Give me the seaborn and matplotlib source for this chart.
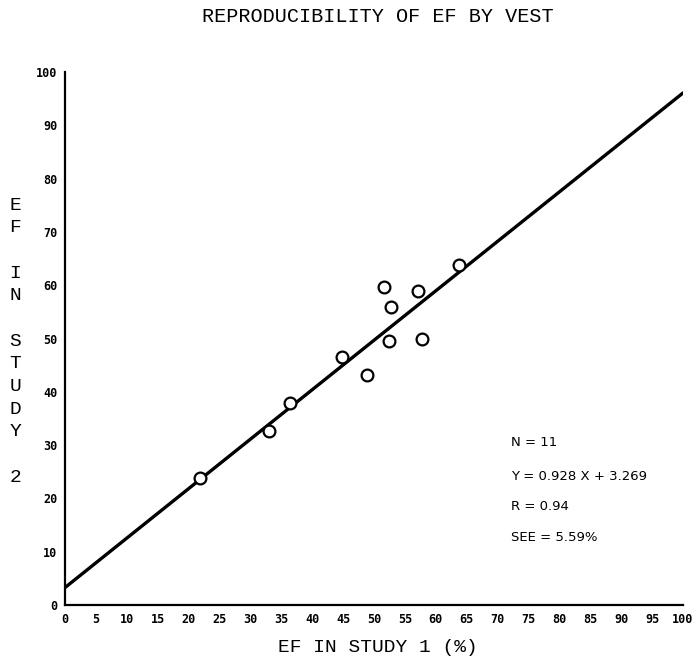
import numpy as np
import pandas as pd
import matplotlib
matplotlib.use("Agg")
import matplotlib.pyplot as plt
import seaborn as sns

# ---- data ----
study1 = [21.9, 33.0, 36.4, 44.8, 48.9, 51.6, 52.4, 52.8, 57.1, 57.8, 63.8]
study2 = [23.8, 32.6, 37.9, 46.6, 43.2, 59.7, 49.5, 55.9, 59.0, 49.9, 63.8]
slope = 0.928
intercept = 3.269
line_x = [0, 100]
x_ticks = list(range(0, 101, 5))
y_ticks = list(range(0, 101, 10))
stats_lines = ["N = 11", "Y = 0.928 X + 3.269", "R = 0.94", "SEE = 5.59%"]
stats_y = [30.4, 24.2, 18.4, 12.6]
title = "REPRODUCIBILITY OF EF BY VEST"
xlabel = "EF IN STUDY 1 (%)"
ylabel_chars = ["E", "F", "", "I", "N", "", "S", "T", "U", "D", "Y", "", "2"]

sns.set_theme(style="white")
plt.rcParams["font.family"] = ["DejaVu Sans"]

W, H, DPI = 696, 668, 100
fig = plt.figure(figsize=(W / DPI, H / DPI), dpi=DPI)
fig.patch.set_facecolor("white")
ax = fig.add_axes([65 / W, 1 - 605 / H, (683 - 65) / W, (605 - 72) / H])
ax.set_facecolor("white")

pts = pd.DataFrame({"study1": study1, "study2": study2})
ln = pd.DataFrame({"x": line_x})
ln["y"] = slope * ln["x"] + intercept

sns.lineplot(data=ln, x="x", y="y", ax=ax, color="black", linewidth=2.4, zorder=2)
sns.scatterplot(data=pts, x="study1", y="study2", ax=ax, s=72, facecolor="white",
                edgecolor="black", linewidth=1.6, zorder=3, clip_on=False)

ax.set_xlim(0, 100)
ax.set_ylim(0, 100)
ax.set_xticks(x_ticks)
ax.set_yticks(y_ticks)
ax.set_xlabel("")
ax.set_ylabel("")
for s in ["top", "right"]:
    ax.spines[s].set_visible(False)
for s in ["left", "bottom"]:
    ax.spines[s].set_linewidth(1.6)
    ax.spines[s].set_color("black")
ax.tick_params(axis="both", direction="inout", length=8, width=1.3, colors="black",
               pad=1.5, labelsize=8.5)
for lab in ax.get_xticklabels() + ax.get_yticklabels():
    lab.set_fontfamily("DejaVu Sans Mono")
    lab.set_fontweight("bold")

for txt, yv in zip(stats_lines, stats_y):
    ax.text(72.2, yv, txt, fontsize=9.5, va="center", ha="left", color="black",
            family="DejaVu Sans")

fig.text(378 / W, 1 - 16 / H, title, ha="center", va="center", fontsize=14.5,
         family="Liberation Mono", color="black")
fig.text(378 / W, 1 - 648 / H, xlabel, ha="center", va="center", fontsize=14,
         family="Liberation Mono", color="black")
for i, ch in enumerate(ylabel_chars):
    if ch:
        fig.text(15 / W, 1 - (205 + i * 22.7) / H, ch, ha="center", va="center",
                 fontsize=14, family="Liberation Mono", color="black")

fig.savefig("out.png", dpi=DPI, facecolor="white")
